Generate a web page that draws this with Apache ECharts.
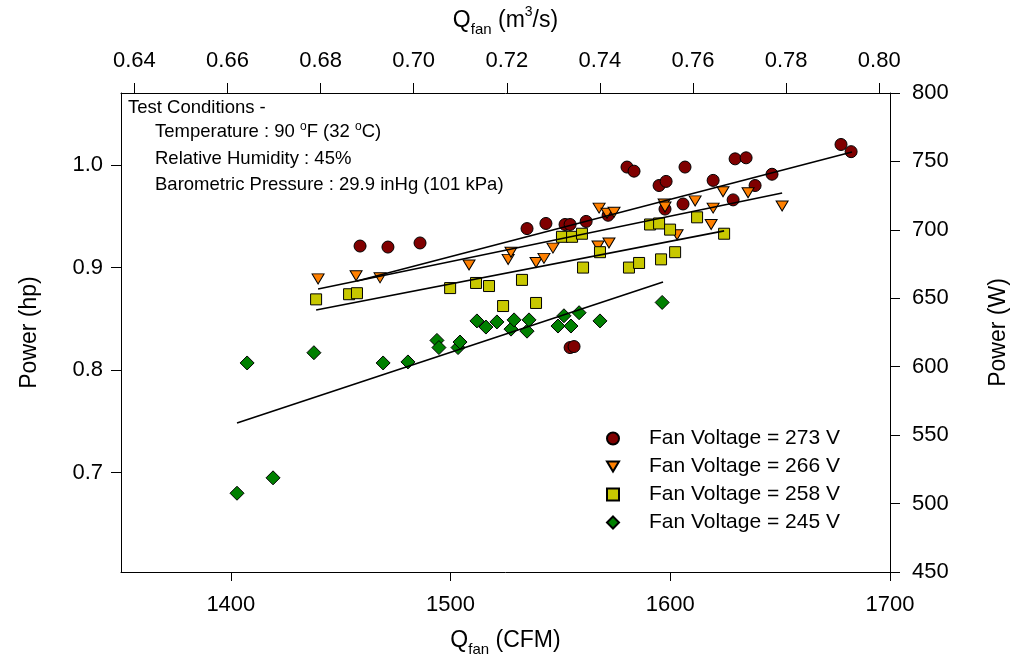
<!DOCTYPE html>
<html>
<head>
<meta charset="utf-8">
<script src="https://cdn.jsdelivr.net/npm/echarts@6.0.0/dist/echarts.min.js"></script>
<style>
  html, body { margin: 0; padding: 0; background: #fff; }
  #main { width: 1016px; height: 664px; }
</style>
</head>
<body>
<div id="main"></div>
<script>
// measured points, Q in CFM and power in hp
var cfm273 = [1458.8, 1471.5, 1486.1, 1534.8, 1543.4, 1552.1, 1554.4, 1561.7, 1571.7, 1580.3, 1583.5, 1594.9, 1598.1,
  1597.6, 1605.8, 1606.7, 1619.5, 1628.6, 1629.5, 1634.5, 1638.6, 1646.3, 1677.7, 1682.3, 1554.4, 1556.2];
var hp273 = [0.921, 0.920, 0.924, 0.938, 0.943, 0.942, 0.942, 0.945, 0.951, 0.998, 0.994, 0.980, 0.984,
  0.957, 0.962, 0.998, 0.985, 0.966, 1.006, 1.007, 0.980, 0.991, 1.020, 1.013, 0.822, 0.823];

var cfm266 = [1439.7, 1457.0, 1467.9, 1508.4, 1526.2, 1527.5, 1538.9, 1542.5, 1546.6, 1567.6, 1571.2, 1574.4,
  1597.2, 1597.6, 1611.3, 1619.5, 1624.0, 1635.4, 1650.9, 1618.6, 1603.1, 1567.1, 1572.1];
var hp266 = [0.889, 0.892, 0.890, 0.9025, 0.908, 0.915, 0.905, 0.909, 0.919, 0.958, 0.953, 0.954,
  0.962, 0.959, 0.965, 0.958, 0.974, 0.973, 0.960, 0.942, 0.932, 0.921, 0.924];

var cfm258 = [1438.8, 1453.8, 1457.4, 1499.8, 1511.6, 1517.5, 1532.5, 1523.9, 1538.9, 1550.7, 1555.3, 1559.8,
  1560.3, 1568.0, 1581.2, 1585.8, 1590.8, 1594.9, 1595.8, 1599.9, 1602.2, 1612.2, 1624.5];
var hp258 = [0.869, 0.874, 0.875, 0.880, 0.885, 0.882, 0.888, 0.8625, 0.8655, 0.930, 0.930, 0.933,
  0.900, 0.915, 0.900, 0.9045, 0.942, 0.943, 0.908, 0.937, 0.915, 0.949, 0.933];

var cfm245 = [1402.8, 1407.4, 1419.2, 1437.8, 1469.3, 1480.6, 1493.8, 1494.7, 1503.4, 1504.3, 1512.0, 1516.1,
  1521.1, 1527.5, 1528.9, 1534.8, 1535.7, 1548.9, 1551.6, 1554.8, 1558.5, 1568.0, 1596.3];
var hp245 = [0.680, 0.807, 0.695, 0.817, 0.807, 0.808, 0.829, 0.822, 0.822, 0.8274, 0.848, 0.842,
  0.847, 0.840, 0.849, 0.838, 0.849, 0.843, 0.853, 0.843, 0.856, 0.848, 0.866];

// fitted lines (start and end)
var fitCfm273 = [1457.4, 1682.7], fitHp273 = [0.8869, 1.0127];
var fitCfm266 = [1439.7, 1650.9], fitHp266 = [0.8791, 0.9727];
var fitCfm258 = [1438.8, 1624.5], fitHp258 = [0.8586, 0.9357];
var fitCfm245 = [1402.8, 1596.7], fitHp245 = [0.7485, 0.8859];

var voltages = ['Fan Voltage = 273 V', 'Fan Voltage = 266 V', 'Fan Voltage = 258 V', 'Fan Voltage = 245 V'];

var cfmTicks = [1400, 1500, 1600, 1700];
var m3sTicks = [0.64, 0.66, 0.68, 0.70, 0.72, 0.74, 0.76, 0.78, 0.80];
var hpTicks = [0.7, 0.8, 0.9, 1.0];

var CFM_MIN = 1350, CFM_MAX = 1700;
var M3S_PER_CFM = 0.000471947;

function pairs(xs, ys) {
  return xs.map(function (x, i) { return [x, ys[i]]; });
}

var FONT = 'Liberation Sans';
var chart = echarts.init(document.getElementById('main'));

var axisLine = { show: true, onZero: false, lineStyle: { color: '#000', width: 1 } };

var subRich = {
  q: { fontSize: 23, fontFamily: FONT, lineHeight: 32, color: '#000' },
  s: { fontSize: 15, fontFamily: FONT, lineHeight: 14, verticalAlign: 'bottom', color: '#000' },
  u: { fontSize: 14, fontFamily: FONT, lineHeight: 13, verticalAlign: 'top', color: '#000' }
};

function scatter(name, xs, ys, symbol, size, color) {
  return {
    name: name,
    type: 'scatter',
    data: pairs(xs, ys),
    symbol: symbol,
    symbolSize: size,
    itemStyle: { color: color, borderColor: '#000', borderWidth: 1, opacity: 1 },
    emphasis: { disabled: true },
    z: 3
  };
}

function fit(xs, ys) {
  return {
    type: 'line',
    data: pairs(xs, ys),
    symbol: 'none',
    lineStyle: { color: '#000', width: 1.7 },
    silent: true,
    z: 4
  };
}

var triDown = 'path://M0,0 L12,0 L6,10 Z';
var tickFont = 22;
var noteFont = '18.5px "Liberation Sans"';

var option = {
  backgroundColor: '#fff',
  animation: false,
  textStyle: { fontFamily: FONT, color: '#000' },
  grid: { left: 121, right: 126, top: 93, bottom: 92, outerBoundsMode: 'none', containLabel: false },
  legend: {
    orient: 'vertical',
    left: 601,
    top: 423,
    itemWidth: 12,
    itemHeight: 12,
    itemGap: 7,
    data: voltages,
    textStyle: { fontSize: 21, fontFamily: FONT, color: '#000', padding: [0, 0, 0, 25] }
  },
  xAxis: [
    {
      type: 'value',
      position: 'bottom',
      min: CFM_MIN,
      max: CFM_MAX,
      axisLine: axisLine,
      axisTick: { show: true, length: 9, customValues: cfmTicks, lineStyle: { color: '#000' } },
      axisLabel: {
        customValues: cfmTicks, fontSize: tickFont, margin: 22, color: '#000', fontFamily: FONT,
        formatter: function (v) { return String(v); }
      },
      splitLine: { show: false },
      name: '{q|Q}{s|fan}{q| (CFM)}',
      nameLocation: 'middle',
      nameGap: 53,
      nameTextStyle: { rich: subRich }
    },
    {
      type: 'value',
      position: 'top',
      min: CFM_MIN * M3S_PER_CFM,
      max: CFM_MAX * M3S_PER_CFM,
      axisLine: axisLine,
      axisTick: { show: true, length: 10, customValues: m3sTicks, lineStyle: { color: '#000' } },
      axisLabel: {
        customValues: m3sTicks, fontSize: tickFont, margin: 21, color: '#000', fontFamily: FONT,
        formatter: function (v) { return v.toFixed(2); }
      },
      splitLine: { show: false },
      name: '{q|Q}{s|fan}{q| (m}{u|3}{q|/s)}',
      nameLocation: 'middle',
      nameGap: 56,
      nameTextStyle: { rich: subRich }
    }
  ],
  yAxis: [
    {
      type: 'value',
      position: 'left',
      min: 0.6032,
      max: 1.0702,
      axisLine: axisLine,
      axisTick: { show: true, length: 10, customValues: hpTicks, lineStyle: { color: '#000' } },
      axisLabel: {
        customValues: hpTicks, fontSize: tickFont, margin: 18, color: '#000', fontFamily: FONT,
        formatter: function (v) { return v.toFixed(1); }
      },
      splitLine: { show: false },
      name: 'Power (hp)',
      nameLocation: 'middle',
      nameGap: 80,
      nameRotate: 90,
      nameTextStyle: { fontSize: 23, fontFamily: FONT, color: '#000' }
    },
    {
      type: 'value',
      position: 'right',
      min: 450,
      max: 800,
      interval: 50,
      axisLine: axisLine,
      axisTick: { show: true, length: 10, lineStyle: { color: '#000' } },
      axisLabel: { fontSize: tickFont, margin: 22, color: '#000', fontFamily: FONT },
      splitLine: { show: false },
      name: 'Power (W)',
      nameLocation: 'middle',
      nameGap: 97,
      nameRotate: 90,
      nameTextStyle: { fontSize: 23, fontFamily: FONT, color: '#000' }
    }
  ],
  graphic: [
    { type: 'text', left: 128, top: 98, style: { text: 'Test Conditions -', font: noteFont, fill: '#000' } },
    {
      type: 'text', left: 155, top: 121,
      style: {
        text: 'Temperature : 90 {sup|o}F (32 {sup|o}C)',
        font: noteFont, fill: '#000', lineHeight: 22,
        rich: { sup: { fontSize: 12, fontFamily: FONT, verticalAlign: 'top', lineHeight: 12, fill: '#000' } }
      }
    },
    { type: 'text', left: 155, top: 149, style: { text: 'Relative Humidity : 45%', font: noteFont, fill: '#000' } },
    { type: 'text', left: 155, top: 175, style: { text: 'Barometric Pressure : 29.9 inHg (101 kPa)', font: noteFont, fill: '#000' } }
  ],
  series: [
    scatter(voltages[0], cfm273, hp273, 'circle', 12, '#800000'),
    scatter(voltages[1], cfm266, hp266, triDown, [12, 10], '#ff8000'),
    scatter(voltages[2], cfm258, hp258, 'rect', 11, '#c8c800'),
    scatter(voltages[3], cfm245, hp245, 'diamond', 14, '#008000'),
    fit(fitCfm273, fitHp273),
    fit(fitCfm266, fitHp266),
    fit(fitCfm258, fitHp258),
    fit(fitCfm245, fitHp245)
  ]
};

chart.setOption(option);
</script>
</body>
</html>
